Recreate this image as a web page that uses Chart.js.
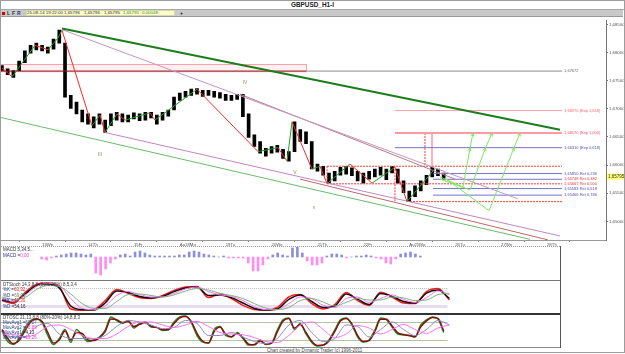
<!DOCTYPE html>
<html>
<head>
<meta charset="utf-8">
<script src="https://cdn.jsdelivr.net/npm/chart.js@4.4.1/dist/chart.umd.min.js"></script>
<style>
  body { margin: 0; background: #fff; }
  #wrap { position: relative; width: 625px; height: 354px; overflow: hidden; background: #fff;
          font-family: "Liberation Sans", Arial, sans-serif; }
  canvas { position: absolute; }
  .abs { position: absolute; white-space: pre; }
  #frame { left: 0; top: 0; width: 623px; height: 351px; border: 1px solid #9c9c9c; }
  #title { left: 0; top: 0; width: 625px; height: 9px; border-bottom: 1px solid #a8a8a8;
           text-align: center; font: bold 6.4px/10px "Liberation Sans", Arial, sans-serif; color: #222; }
  #tool { left: 1px; top: 10px; width: 622px; height: 6px; background: #c9c9c9; border-bottom: 1px solid #999; }
  #info { left: 26px; top: 10px; width: 149px; height: 6px; background: #fbfbd0; border: 1px solid #d8d8a0; box-sizing: border-box; }
  .tb { font: bold 5px/6px "Liberation Sans", Arial, sans-serif; top: 10px; }
  .it { font: 4.4px/6px "Liberation Sans", Arial, sans-serif; top: 10px; color: #333; }
  .lg { font: 4.5px/5.4px "Liberation Sans", Arial, sans-serif; color: #333; left: 3px; }
  .nv { color: #223388; }
  .hl { height: 0; }
</style>
</head>
<body>
<div id="wrap">
  <div id="title" class="abs">GBPUSD_H1-I</div>
  <div id="tool" class="abs"></div>
  <div class="abs" style="left:2px;top:12px;width:3px;height:3px;background:#d00000"></div>
  <div class="abs tb" style="left:7px;color:#333">L</div>
  <div class="abs tb" style="left:12px;color:#333">F</div>
  <div class="abs tb" style="left:17px;color:#1c3a9c">R</div>
  <div id="info" class="abs"></div>
  <div class="abs it" style="left:27px">25-08-14 19:22:00</div>
  <div class="abs it" style="left:64px">1,65796</div>
  <div class="abs it" style="left:84px">1,65796</div>
  <div class="abs it" style="left:104px">1,65795</div>
  <div class="abs it" style="left:123px;color:#2a9a2a">1,65795</div>
  <div class="abs it" style="left:142px;color:#2a9a2a">0,00048</div>
  <div class="abs tb" style="left:180px;color:#111">+</div>

  <canvas id="main" width="625" height="229" style="left:0;top:17px"></canvas>

  <div class="abs hl" style="left:0;top:246px;width:560px;border-top:1px dotted #999"></div>
  <canvas id="macd" width="560" height="33" style="left:0;top:247px"></canvas>
  <div class="abs hl" style="left:0;top:280px;width:560px;border-top:1px solid #777"></div>
  <canvas id="stoch" width="560" height="32" style="left:0;top:281px"></canvas>
  <div class="abs hl" style="left:0;top:313px;width:560px;border-top:2px solid #333"></div>
  <canvas id="osc" width="560" height="32" style="left:0;top:315px"></canvas>
  <div class="abs hl" style="left:0;top:347px;width:560px;border-top:1px solid #888"></div>
  <div class="abs" style="left:560px;top:246px;width:0;height:102px;border-left:1px solid #555"></div>

  <div class="abs lg" style="top:247px">MACD 5,34,5...</div>
  <div class="abs lg" style="top:252.5px"><span class="nv">MACD =</span><span style="color:#ff33cc">0,00</span></div>

  <div class="abs lg" style="top:281.5px">DTStoch 14,3,8,8 (80%-20%) 8,5,3,4</div>
  <div class="abs lg" style="top:287px"><span class="nv">%K =</span><span style="color:#ff2020">63,32</span></div>
  <div class="abs lg" style="top:292.5px"><span class="nv">%D =</span><span style="color:#5a8a5a">69,05</span></div>
  <div class="abs lg" style="top:298px"><span class="nv">%K =</span><span style="color:#ff2020">41,30</span></div>
  <div class="abs lg" style="top:303.5px"><span class="nv">%D =</span><span style="color:#222">54,16</span></div>

  <div class="abs lg" style="top:314.5px">DTOSC 21,13,8,8 (80%-20%) 14,8,8,3</div>
  <div class="abs lg" style="top:319.5px"><span class="nv">MovAvg1 =</span><span style="color:#5a5aaa">59,27</span></div>
  <div class="abs lg" style="top:324.5px"><span class="nv">MovAvg2 =</span><span style="color:#ff33cc">76,89</span></div>
  <div class="abs lg" style="top:329.5px"><span class="nv">MovAvg1 =</span><span style="color:#222">4,13</span></div>
  <div class="abs lg" style="top:334.5px"><span class="nv">MovAvg2 =</span><span style="color:#ff33cc">13,26</span></div>

  <div class="abs lg" style="left:267px;top:347.5px;color:#444">Chart created by Dynamic Trader (c) 1996-2011</div>
  <div id="frame" class="abs"></div>
</div>

<script>
// ---------- axes ----------
const dayHours  = [22, 46, 70, 94, 118, 142, 166, 190, 214, 238, 262, 286];
const dayLabels = ['13We', '14Th', '15Fr', 'Au18Mo', '19Tu', '20We', '21Th', '22Fr', 'Au25Mo', '26Tu', '27We', '28Th'];
const priceTicks = [1.650, 1.655, 1.660, 1.665, 1.670, 1.675, 1.680, 1.685];
const lastPrice = 1.65795;

// ---------- price bars (3-hour slots) ----------
const barHigh = [1.6777,1.6771,1.6768,1.6785,1.6803,1.6813,1.6817,1.6813,1.6810,1.6824,
                 1.6840,1.6817,1.6724,1.6712,1.6698,1.6691,1.6686,1.6691,1.6680,1.6691,
                 1.6694,1.6691,1.6689,1.6693,1.6691,1.6694,1.6694,1.6689,1.6694,1.6698,
                 1.6721,1.6728,1.6731,1.6735,1.6736,1.6733,1.6733,1.6731,1.6729,1.6726,
                 1.6724,1.6726,1.6726,1.6691,1.6654,1.6642,1.6630,1.6633,1.6635,1.6628,
                 1.6624,1.6677,1.6663,1.6659,1.6642,1.6602,1.6598,1.6586,1.6589,1.6596,
                 1.6598,1.6595,1.6589,1.6586,1.6589,1.6593,1.6596,1.6593,1.6598,1.6593,
                 1.6572,1.6554,1.6563,1.6572,1.6582,1.6596,1.6593,1.6586];
const barLow  = [1.6768,1.6761,1.6756,1.6768,1.6782,1.6799,1.6805,1.6803,1.6799,1.6806,
                 1.6817,1.6721,1.6701,1.6691,1.6677,1.6673,1.6666,1.6673,1.6658,1.6670,
                 1.6680,1.6677,1.6677,1.6682,1.6679,1.6680,1.6684,1.6673,1.6680,1.6687,
                 1.6698,1.6715,1.6721,1.6724,1.6726,1.6722,1.6724,1.6721,1.6719,1.6715,
                 1.6715,1.6717,1.6686,1.6649,1.6633,1.6621,1.6616,1.6621,1.6623,1.6612,
                 1.6607,1.6624,1.6642,1.6638,1.6593,1.6589,1.6582,1.6567,1.6572,1.6582,
                 1.6584,1.6581,1.6572,1.6568,1.6575,1.6579,1.6582,1.6574,1.6586,1.6568,
                 1.6551,1.6535,1.6544,1.6554,1.6565,1.6579,1.6581,1.6575];
const slotHour = i => 1 + 3 * i;   // bar slot -> hour on the time axis

// ---------- swing zigzag ----------
const zigHours  = [1, 6.3, 18.3, 25.1, 30.3, 32.4, 48.1, 52.3, 54.9, 61.2, 65.4, 78.4, 81.0, 103.0,
                   134.9, 145.4, 150.1, 152.7, 163.1, 167.3, 171.0, 183.0, 194.5, 206.5, 212.8, 227.5];
const zigPrices = [1.6773, 1.6757, 1.6813, 1.6805, 1.6826, 1.6840, 1.6670, 1.6689, 1.6658, 1.6691, 1.6680, 1.6693, 1.6680, 1.6735,
                   1.6624, 1.6631, 1.6607, 1.6677, 1.6593, 1.6598, 1.6567, 1.6602, 1.6568, 1.6596, 1.6535, 1.6594];

// ---------- trend lines ----------
const trendFromHour  = [32.4, 32.4, 125.5, 54.9, 156.9, 0];
const trendFromPrice = [1.6843, 1.6841, 1.6726, 1.6658, 1.6575, 1.6685];
const trendToHour    = [292.8, 270.8, 237.9, 292.8, 286.5, 277.1];
const trendToPrice   = [1.6663, 1.6540, 1.6575, 1.6474, 1.6467, 1.6468];

// ---------- horizontal levels ----------
const levelPrices = [1.67672, 1.66970, 1.66570, 1.66310, 1.65980, 1.65850, 1.65748, 1.65667, 1.65583, 1.65466, 1.65350];
const levelFrom   = [160, 206.5, 206.5, 206.5, 171, 226.4, 226.4, 171, 226.4, 226.4, 214.4];
const levelTo     = 293.9;
const levelText   = ['1,67672', '1,66970 (Exp 1,618)', '1,66570 (Exp 1,000)', '1,66310 (Exp 0,618)', '',
                     '1,65850 Ret 0,236', '1,65748 Ret 0,382', '1,65667 Ret 0,500', '1,65583 Ret 0,618', '1,65466 Ret 0,786', ''];
const zoneTop = 1.6780;      // pink zone above 1,67672
const zoneTo  = 160;

// vertical markers
const markHour   = [222.2, 225.9, 206.5, 171];
const markTop    = [1.66570, 1.66570, 1.65980, 1.65980];
const markBottom = [1.65980, 1.65980, 1.65350, 1.65667];

// projected paths
const projHours  = [[230.1, 242.1, 245.8, 247.3], [230.1, 245.8, 253.9, 257.3], [232.7, 255.7, 268.8, 271.9]];
const projPrices = [[1.6579, 1.6561, 1.6631, 1.6657], [1.6575, 1.6556, 1.6631, 1.6657], [1.6577, 1.6519, 1.6631, 1.6657]];

// wave labels
const waveText  = ['III', 'IV', 'V', 'v'];
const waveHour  = [52.3, 128.1, 154.2, 164.2];
const wavePrice = [1.6619, 1.6747, 1.6586, 1.6525];

// ---------- indicators ----------
const macdHist = [-1,-1.5,-0.5,0.5,1,1.5,2,2,1.5,1,1.5,-8,-9,-6,-3,-1,1,1.5,0.5,2.5,
                  3,2,1,0.5,0.5,0.5,0.5,0.5,1,1,2.5,3,2.5,1.5,1,0.5,0,0.5,-0.5,-0.5,
                  -0.5,-0.5,-3,-7,-7,-4,-1,1,2,1,0.5,4.5,5,2,-2,-4,-4,-3,0.5,1.5,
                  1.5,1,-0.5,0,0.5,0.5,1,0.5,-0.5,-1,-3,-3.5,-1,1.5,2,2.5,1.5,0.5];

// 6-hour slots
const stochRed   = [38,28,65,92,97,85,10,6,8,38,75,62,48,45,55,72,83,85,48,60,45,22,8,6,15,50,58,28,10,25,65,38,22,66,50,30,28,68,78,40];
const stochBlack = [40,33,60,88,93,80,20,8,7,30,70,65,52,47,52,68,80,83,55,57,48,30,12,7,10,42,57,35,15,20,60,43,25,62,52,35,30,63,73,45];
const stochPink  = [45,35,55,85,95,88,45,12,8,20,55,68,58,50,50,62,77,83,68,57,52,38,18,8,8,28,50,45,22,15,45,50,32,45,57,42,32,48,70,58];
const stochGreen = [50,42,48,75,88,85,60,28,12,12,35,58,60,55,50,57,70,78,73,62,55,45,28,13,8,15,38,45,33,20,32,45,40,40,50,47,38,40,58,62];
const stochLevels = [80, 20];

// 3-hour slots
const oscGreen = [50,15,5,25,60,85,90,78,35,5, 25,55,12,55,35,15,20,30,53,97, 85,75,85,60,75,80,63,62,52,55,
                  80,97,100,78,35,13,10,55,65,35, 30,45,25,3,5,20,5,10,53,87, 93,55,75,40,12,0,3,20,53,87,
                  93,70,30,13,20,53,93,88,63,40, 37,35,30,70,87,97,90,45];
const oscRed   = [55,25,8,18,50,80,90,82,45,10, 20,50,20,45,42,20,18,28,48,90, 88,78,82,65,72,78,66,62,54,54,
                  75,94,98,82,42,16,10,48,63,40, 31,42,28,6,4,17,7,9,47,83, 92,60,72,45,16,2,3,17,48,83,
                  92,74,35,15,18,48,89,89,67,44, 38,35,31,64,84,95,92,50];
// 6-hour slots
const oscBlue  = [45,30,30,65,75,40,25,25,25,35,65,85,80,70,58,62,85,75,35,35,45,30,15,8,25,70,85,45,15,25,70,65,30,55,80,55,35,55,85,70];
const oscPink  = [40,38,30,40,65,70,55,35,25,25,40,65,80,80,70,62,70,82,65,45,40,38,28,15,12,35,70,80,55,28,40,68,60,40,55,72,55,42,60,70];
const oscLevels = [80, 20];
const slot6Hour = j => 1 + 6 * j;
const levelSpan = [0, 234];

const MAIN_X_MAX = 316.86;
const SUB_X_MAX  = 292.8;
const FONT = '"Liberation Sans", Arial, sans-serif';

// ================= main price chart =================
const seg = (x0, y0, x1, y1) => [{ x: x0, y: y0 }, { x: x1, y: y1 }];
const lineDs = (data, color, width, dash, order) => ({
  type: 'line', data, borderColor: color, borderWidth: width || 1, borderDash: dash || [],
  pointRadius: 0, tension: 0, order: order || 2
});

const trendStyle = [['#1b7d1b', 2], ['#c496c4', 1], ['#b87c7c', 1], ['#c285c2', 1], ['#b86a6a', 1], ['#6cba6c', 1]];
const levelStyle = [['#8c8c8c', 1, []], ['#ffa0a8', 1, []], ['#ff9aa2', 2, []], ['#7474cc', 1, []], ['#ff3a3a', 1, [2, 1]],
                    ['#7474cc', 1, []], ['#7474cc', 1, []], ['#ff3a3a', 1, [2, 1]], ['#7474cc', 1, []], ['#7474cc', 1, []], ['#ff3a3a', 1, [2, 1]]];
const levelTextColor = ['#666', '#ff6070', '#ff5060', '#5050b0', '', '#5050b0', '#e03a3a', '#e03a3a', '#5050b0', '#5050b0', ''];
const markStyle = [['#ff3a3a', 1, [2, 1]], ['#ffb0b8', 2, []], ['#ff3a3a', 1, [2, 1]], ['#ff3a3a', 1, [2, 1]]];

const mainSets = [];
mainSets.push({
  type: 'bar', order: 5,
  data: barHigh.map((h, i) => ({ x: slotHour(i), y: [barLow[i], h] })),
  backgroundColor: '#000', barThickness: 3, grouped: false
});
mainSets.push(lineDs(seg(0, levelPrices[0], zoneTo, levelPrices[0]), '#8b1c1c', 1, [], 3));
levelPrices.forEach((p, i) => {
  mainSets.push(lineDs(seg(levelFrom[i], p, levelTo, p), levelStyle[i][0], levelStyle[i][1], levelStyle[i][2], 3));
});
markHour.forEach((h, i) => {
  mainSets.push(lineDs(seg(h, markTop[i], h, markBottom[i]), markStyle[i][0], markStyle[i][1], markStyle[i][2], 3));
});
trendFromHour.forEach((h, i) => {
  mainSets.push(lineDs(seg(h, trendFromPrice[i], trendToHour[i], trendToPrice[i]), trendStyle[i][0], trendStyle[i][1], [], 2));
});
mainSets.push({
  type: 'line', order: 1, pointRadius: 0, borderWidth: 1, tension: 0,
  data: zigHours.map((h, i) => ({ x: h, y: zigPrices[i] })),
  segment: { borderColor: c => (c.p1.parsed.y < c.p0.parsed.y ? '#ff2828' : '#23a023') }
});
const projStart = mainSets.length;
projHours.forEach((hs, k) => {
  mainSets.push({ ...lineDs(hs.map((h, i) => ({ x: h, y: projPrices[k][i] })), '#7ee860', 1, [], 1), proj: true });
});

const mainDecor = {
  id: 'mainDecor',
  beforeDatasetsDraw(chart) {
    const { ctx, scales: { x, y } } = chart;
    const x0 = x.getPixelForValue(0), x1 = x.getPixelForValue(zoneTo);
    const yt = y.getPixelForValue(zoneTop), yb = y.getPixelForValue(levelPrices[0]);
    ctx.save();
    ctx.fillStyle = '#fff0f2';
    ctx.fillRect(x0, yt, x1 - x0, yb - yt);
    ctx.strokeStyle = '#ffa0ae';
    ctx.lineWidth = 1;
    ctx.strokeRect(x0 + 0.5, Math.round(yt) + 0.5, x1 - x0, yb - yt);
    ctx.restore();
  },
  afterDatasetsDraw(chart) {
    const { ctx, scales: { x, y }, chartArea } = chart;
    ctx.save();
    // arrowheads on projected paths
    ctx.strokeStyle = '#7ee860';
    ctx.lineWidth = 1;
    for (let k = 0; k < projHours.length; k++) {
      const pts = chart.getDatasetMeta(projStart + k).data;
      const a = pts[1], b = pts[3];
      const ang = Math.atan2(b.y - a.y, b.x - a.x);
      [pts[2], pts[3]].forEach(p => {
        ctx.beginPath();
        ctx.moveTo(p.x - 3.5 * Math.cos(ang - 0.45), p.y - 3.5 * Math.sin(ang - 0.45));
        ctx.lineTo(p.x, p.y);
        ctx.lineTo(p.x - 3.5 * Math.cos(ang + 0.45), p.y - 3.5 * Math.sin(ang + 0.45));
        ctx.stroke();
      });
    }
    // level labels
    ctx.font = '4px ' + FONT;
    ctx.textBaseline = 'middle';
    ctx.textAlign = 'left';
    const lx = x.getPixelForValue(levelTo) + 2;
    levelPrices.forEach((p, i) => {
      if (!levelText[i]) return;
      ctx.fillStyle = levelTextColor[i];
      ctx.fillText(levelText[i], lx, y.getPixelForValue(p));
    });
    // wave labels
    ctx.font = '5px ' + FONT;
    ctx.fillStyle = '#9a9050';
    ctx.textAlign = 'center';
    waveText.forEach((t, i) => ctx.fillText(t, x.getPixelForValue(waveHour[i]), y.getPixelForValue(wavePrice[i])));
    // last price tag on the axis
    const py = y.getPixelForValue(lastPrice);
    ctx.fillStyle = '#ffff70';
    ctx.fillRect(chartArea.right + 1, py - 3, 18, 6);
    ctx.fillStyle = '#333';
    ctx.font = '4.5px ' + FONT;
    ctx.textAlign = 'left';
    ctx.fillText(lastPrice.toFixed(5).replace('.', ','), chartArea.right + 2, py);
    ctx.restore();
  }
};

new Chart(document.getElementById('main'), {
  type: 'bar',
  data: { datasets: mainSets },
  options: {
    responsive: false, animation: false, devicePixelRatio: 1,
    layout: { padding: 0 },
    plugins: { legend: { display: false }, tooltip: { enabled: false } },
    scales: {
      x: {
        type: 'linear', min: 0, max: MAIN_X_MAX, offset: false,
        afterBuildTicks: s => { s.ticks = dayHours.map(v => ({ value: v })); },
        afterFit: s => { s.height = 6; },
        ticks: { callback: (v, i) => dayLabels[i], autoSkip: false, maxRotation: 0, align: 'start',
                 font: { size: 4.3, family: FONT }, color: '#555', padding: 0 },
        grid: { drawOnChartArea: false, tickLength: 2, color: '#888' },
        border: { color: '#999', dash: [1, 1] }
      },
      y: {
        type: 'linear', position: 'right', min: 1.64668, max: 1.68570,
        afterBuildTicks: s => { s.ticks = priceTicks.map(v => ({ value: v })); },
        afterFit: s => { s.width = 19; },
        ticks: { callback: v => v.toFixed(5).replace('.', ','), font: { size: 4.3, family: FONT }, color: '#555', padding: 1 },
        grid: { drawOnChartArea: false, tickLength: 2, color: '#777' },
        border: { color: '#777' }
      }
    }
  },
  plugins: [mainDecor]
});

// ================= indicator panels =================
function levelPlugin(levels, styles) {
  return {
    id: 'levels',
    beforeDatasetsDraw(chart) {
      const { ctx, scales: { x, y } } = chart;
      ctx.save();
      levels.forEach((v, i) => {
        const [color, width, dash] = styles[i];
        ctx.strokeStyle = color; ctx.lineWidth = width; ctx.setLineDash(dash);
        const py = Math.round(y.getPixelForValue(v)) + (width % 2 ? 0.5 : 0);
        ctx.beginPath();
        ctx.moveTo(x.getPixelForValue(levelSpan[0]), py);
        ctx.lineTo(x.getPixelForValue(levelSpan[1]), py);
        ctx.stroke();
      });
      ctx.restore();
    }
  };
}

function panel(id, type, datasets, yMin, yMax, plugins) {
  return new Chart(document.getElementById(id), {
    type,
    data: { datasets },
    options: {
      responsive: false, animation: false, devicePixelRatio: 1,
      layout: { padding: 0 },
      plugins: { legend: { display: false }, tooltip: { enabled: false } },
      scales: {
        x: { type: 'linear', display: false, min: 0, max: SUB_X_MAX },
        y: { type: 'linear', display: false, min: yMin, max: yMax }
      },
      elements: { point: { radius: 0 }, line: { cubicInterpolationMode: 'monotone', borderWidth: 1 } }
    },
    plugins: plugins || []
  });
}

const osc = (vals, slot, color, width) => ({
  type: 'line', data: vals.map((v, i) => ({ x: slot(i), y: v })), borderColor: color, borderWidth: width
});

panel('macd', 'bar', [{
  data: macdHist.map((v, i) => ({ x: slotHour(i), y: v })),
  backgroundColor: macdHist.map(v => (v >= 0 ? '#8f8fd8' : '#ff8cf0')),
  barThickness: 2
}], -11.5, 5);

panel('stoch', 'line', [
  osc(stochGreen, slot6Hour, '#7fb07f', 1),
  osc(stochPink, slot6Hour, '#ff70f0', 1),
  osc(stochBlack, slot6Hour, '#111', 1.5),
  osc(stochRed, slot6Hour, '#ff1c1c', 1.5)
], -3.3, 103.3, [levelPlugin(stochLevels, [['#c0c0c0', 1, [1, 1]], ['#e6def0', 3, []]])]);

panel('osc', 'line', [
  osc(oscPink, slot6Hour, '#ff70f0', 1),
  osc(oscBlue, slot6Hour, '#8a8ac0', 1),
  osc(oscRed, slotHour, '#8a1010', 1.5),
  osc(oscGreen, slotHour, '#1f8f1f', 1.5)
], -3.3, 103.3, [levelPlugin(oscLevels, [['#b4c2a6', 1, []], ['#b4c2a6', 1, []]])]);
</script>
</body>
</html>
